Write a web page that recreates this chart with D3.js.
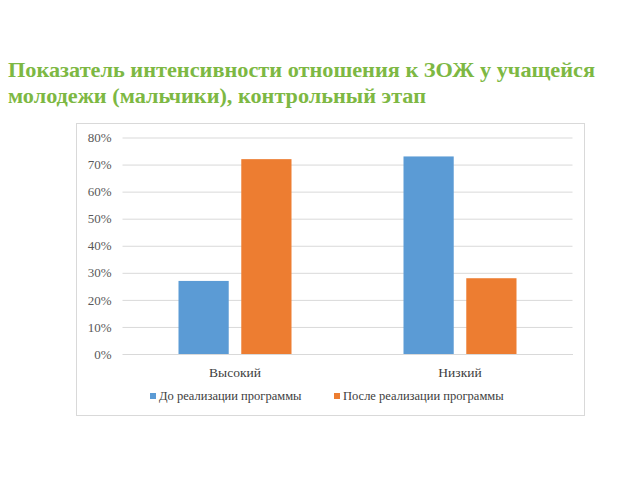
<!DOCTYPE html>
<html><head><meta charset="utf-8">
<script src="https://cdn.jsdelivr.net/npm/d3@7"></script>
<style>
body{margin:0;background:#fff}
svg text{font-family:"Liberation Serif","Tinos","Times New Roman",serif !important}
</style>
</head><body>
<script>
const categories = ["Высокий", "Низкий"];
const seriesNames = ["До реализации программы", "После реализации программы"];
const before = [0.27, 0.73];
const after = [0.72, 0.28];
const yTicks = [0, 0.1, 0.2, 0.3, 0.4, 0.5, 0.6, 0.7, 0.8];
const titleLines = ["Показатель интенсивности отношения к ЗОЖ у учащейся", "молодежи (мальчики), контрольный этап"];
const colors = ["#5B9BD5", "#ED7D31"];

(function () {
const FONT = "Liberation Serif";
const W = 640, H = 480;
const svg = d3.select("body").append("svg").attr("width", W).attr("height", H)
  .attr("font-family", FONT);
const titleW = [587, 418];

svg.selectAll("text.title").data(titleLines).join("text")
  .attr("class", "title")
  .attr("x", 8).attr("y", (d, i) => 77 + i * 26)
  .attr("font-family", FONT)
  .attr("font-weight", "bold").attr("font-size", 21)
  .attr("textLength", (d, i) => titleW[i]).attr("lengthAdjust", "spacingAndGlyphs")
  .attr("fill", "#7DB843").text(d => d);

svg.append("rect").attr("x", 76.5).attr("y", 123.5).attr("width", 508).attr("height", 292)
  .attr("fill", "#fff").attr("stroke", "#D9D9D9").attr("stroke-width", 1);

const pLeft = 122.5, pRight = 572.5, pTop = 137.5, pBottom = 354;
const y = d3.scaleLinear().domain([0, 0.8]).range([pBottom, pTop]);
const x0 = d3.scaleBand().domain(categories).range([pLeft, pRight]).paddingInner(0).paddingOuter(0);
const x1 = d3.scaleBand().domain(seriesNames).range([56, x0.bandwidth() - 56]).paddingInner(0.2);

const yAxis = d3.axisLeft(y).tickValues(yTicks).tickFormat(d3.format(".0%")).tickSize(-(pRight - pLeft)).tickPadding(11);
const gy = svg.append("g").attr("transform", `translate(${pLeft},0)`).call(yAxis);
gy.attr("font-family", FONT);
gy.select(".domain").remove();
gy.selectAll(".tick line").attr("stroke", "#D9D9D9").attr("stroke-width", 1);
gy.selectAll(".tick text").attr("font-family", FONT).attr("font-size", 13).attr("fill", "#595959");

const data = categories.map((c, i) => ({cat: c, vals: [before[i], after[i]]}));
const groups = svg.append("g").selectAll("g").data(data).join("g")
  .attr("transform", d => `translate(${x0(d.cat)},0)`);
groups.selectAll("rect").data(d => d.vals.map((v, j) => ({s: seriesNames[j], v, j})))
  .join("rect")
  .attr("x", d => x1(d.s)).attr("width", x1.bandwidth())
  .attr("y", d => y(d.v)).attr("height", d => y(0) - y(d.v))
  .attr("fill", d => colors[d.j]);

const xAxis = d3.axisBottom(x0).tickSize(0).tickPadding(13);
const gx = svg.append("g").attr("transform", `translate(0,${pBottom})`).call(xAxis);
gx.attr("font-family", FONT);
gx.select(".domain").attr("stroke", "#D9D9D9");
gx.selectAll(".tick text").attr("font-family", FONT).attr("font-size", 13.5).attr("fill", "#404040");

const legendX = [150, 334];
const lg = svg.append("g").selectAll("g").data(seriesNames).join("g")
  .attr("transform", (d, i) => `translate(${legendX[i]},396)`);
lg.append("rect").attr("x", 0).attr("y", -3).attr("width", 6).attr("height", 6).attr("fill", (d, i) => colors[i]);
lg.append("text").attr("x", 9).attr("y", 4).attr("font-family", FONT).attr("font-size", 12.5).attr("fill", "#404040").text(d => d);
})();
</script>
</body></html>
